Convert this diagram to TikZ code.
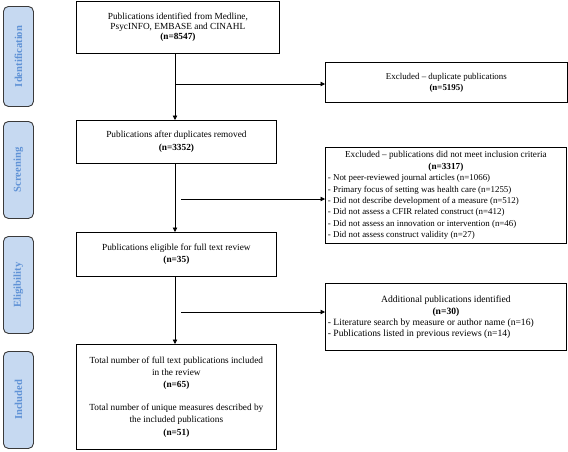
\documentclass[tikz,border=0pt]{standalone}
\usepackage{fontspec}
\setmainfont{Liberation Serif}
\usetikzlibrary{arrows.meta}
\definecolor{sidefill}{HTML}{C6D9F1}
\definecolor{sidetext}{HTML}{5F92D6}
\definecolor{sideline}{HTML}{3A3A3A}
\tikzset{
  x=1pt, y=-1pt,
  box/.style={draw=black, line width=0.8pt, inner sep=0pt, anchor=north west, align=center},
  side/.style={draw=sideline, fill=sidefill, line width=0.9pt, rounded corners=5pt, inner sep=0pt,
     anchor=north west, minimum width=30pt},
  sidelabel/.style={rotate=90, text=sidetext, font=\fontsize{10.6}{12}\selectfont\bfseries},
  arr/.style={line width=0.8pt, -{Triangle[width=4.5pt,length=4.5pt]}}
}
\begin{document}
\begin{tikzpicture}
\useasboundingbox (0,0) rectangle (568,451);
% side labels
\node[side, minimum height=100pt] (sid) at (3,6) {};
\node[sidelabel] (sidt) at (sid.center) {Identification};
\node[side, minimum height=97pt] (ssc) at (3,121) {};
\node[sidelabel] (ssct) at (ssc.center) {Screening};
\node[side, minimum height=97pt] (sel) at (3,236) {};
\node[sidelabel] (selt) at (sel.center) {Eligibility};
\node[side, minimum height=97pt] (sin) at (3,351) {};
\node[sidelabel] (sint) at (sin.center) {Included};

% main boxes
\node[box, minimum width=203pt, minimum height=52.5pt, font=\fontsize{9.3}{9.9}\selectfont] (b1) at (76,0.5)
  {Publications identified from Medline,\\PsycINFO, EMBASE and CINAHL\\\textbf{(n=8547)}};
\node[box, minimum width=200pt, minimum height=43pt, font=\fontsize{9.3}{13}\selectfont] (b2) at (76,120)
  {Publications after duplicates removed\\\textbf{(n=3352)}};
\node[box, minimum width=200pt, minimum height=44pt, font=\fontsize{9.3}{12.3}\selectfont] (b3) at (76,232)
  {Publications eligible for full text review\\\textbf{(n=35)}};
\node[box, minimum width=200pt, minimum height=105pt, font=\fontsize{9.3}{12.4}\selectfont] (b4) at (76,344)
  {Total number of full text publications included\\in the review\\\textbf{(n=65)}\\[10pt]Total number of unique measures described by\\the included publications\\\textbf{(n=51)}};

% side boxes
\node[box, minimum width=242pt, minimum height=40pt, font=\fontsize{8.9}{11}\selectfont] (dup) at (325,62)
  {Excluded -- duplicate publications\\\textbf{(n=5195)}};
\node[box, minimum width=241pt, minimum height=96pt] (exc) at (325,147)
  {\parbox{236pt}{\fontsize{9.2}{11.6}\selectfont\centering Excluded -- publications did not meet inclusion criteria\\\textbf{(n=3317)}\par
   \fontsize{8.9}{11.4}\selectfont\raggedright
   - Not peer-reviewed journal articles (n=1066)\\
   - Primary focus of setting was health care (n=1255)\\
   - Did not describe development of a measure (n=512)\\
   - Did not assess a CFIR related construct (n=412)\\
   - Did not assess an innovation or intervention (n=46)\\
   - Did not assess construct validity (n=27)\par}};
\node[box, minimum width=241pt, minimum height=67pt] (add) at (325,283)
  {\parbox{236pt}{\fontsize{9.6}{11.8}\selectfont\centering Additional publications identified\\\textbf{(n=30)}\par
   \fontsize{9.6}{11}\selectfont\raggedright
   - Literature search by measure or author name (n=16)\\
   - Publications listed in previous reviews (n=14)\par}};

% junctions
\coordinate (j1) at (175,84);
\coordinate (j2) at (181,199);
\coordinate (j3) at (181,312);

% connectors
\draw[arr] (b1.south -| j1) -- (b2.north -| j1);
\draw[arr] (j1) -- (j1 -| dup.west);
\draw[arr] (b2.south -| j1) -- (b3.north -| j1);
\draw[arr] (j2) -- (j2 -| exc.west);
\draw[arr] (b3.south -| j1) -- (b4.north -| j1);
\draw[arr] (j3) -- (j3 -| add.west);
\end{tikzpicture}
\end{document}
